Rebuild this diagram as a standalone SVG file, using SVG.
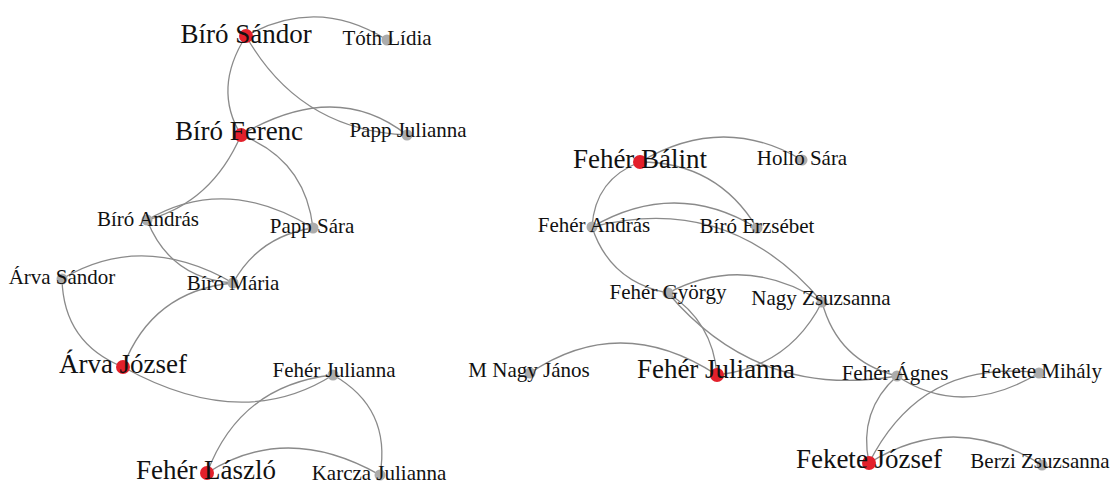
<svg xmlns="http://www.w3.org/2000/svg" width="1113" height="483" viewBox="0 0 1113 483">
<style>
.e{fill:none;stroke:#8a8a8a;stroke-width:1.3}
.r{fill:#e3202b}
.g{fill:#acacac}
text{font-family:"Liberation Serif","Times New Roman",serif;fill:#111111;text-anchor:middle}
.L{font-size:27px}
.S{font-size:21px}
</style>
<rect width="1113" height="483" fill="#ffffff"/>
<g id="edges">
<path class="e" d="M246 36 Q317.5 -4 387 40"/>
<path class="e" d="M246 36 Q212.5 88.5 241 135"/>
<path class="e" d="M246 36 Q299.5 130.5 407 135"/>
<path class="e" d="M241 135 Q336 79 407 135"/>
<path class="e" d="M241 135 Q212 202.5 147 220"/>
<path class="e" d="M241 135 Q305 159.5 313 228"/>
<path class="e" d="M147 220 Q226 174 313 228"/>
<path class="e" d="M147 220 Q170 278.5 233 283"/>
<path class="e" d="M313 228 Q259 236 233 283"/>
<path class="e" d="M62 279 Q142.5 231 233 283"/>
<path class="e" d="M62 279 Q63.5 343 123 367"/>
<path class="e" d="M233 283 Q152 291 123 367"/>
<path class="e" d="M123 367 Q242 433 333 375"/>
<path class="e" d="M333 375 Q240 385 207 473"/>
<path class="e" d="M333 375 Q391.5 408 380 475"/>
<path class="e" d="M207 473 Q286.5 422 380 475"/>
<path class="e" d="M640 162 Q723 113 802 160"/>
<path class="e" d="M640 162 Q595 179 592 227"/>
<path class="e" d="M640 162 Q717 162 757 228"/>
<path class="e" d="M592 227 Q675.5 178.5 757 228"/>
<path class="e" d="M592 227 Q729 191.5 822 302"/>
<path class="e" d="M592 227 Q610 282 668 293"/>
<path class="e" d="M668 293 Q745 252.5 822 302"/>
<path class="e" d="M668 293 Q713 322 717 375"/>
<path class="e" d="M668 293 Q758.7 400 897 376"/>
<path class="e" d="M822 302 Q789 367 717 375"/>
<path class="e" d="M822 302 Q837.7 361 897 376"/>
<path class="e" d="M530 373 Q620.5 312 717 375"/>
<path class="e" d="M897 376 Q962 419.5 1039 373"/>
<path class="e" d="M897 376 Q858 411 869 463"/>
<path class="e" d="M869 463 Q922 358 1039 373"/>
<path class="e" d="M869 463 Q954.5 410 1042 465"/>
</g>
<g id="n-biro-sandor"><circle class="r" cx="246" cy="36" r="7"/><text class="L" x="246" y="43">Bíró Sándor</text></g>
<g id="n-toth-lidia"><circle class="g" cx="387" cy="40" r="5.5"/><text class="S" x="387" y="45">Tóth Lídia</text></g>
<g id="n-biro-ferenc"><circle class="r" cx="241" cy="135" r="7"/><text class="L" x="239" y="140">Bíró Ferenc</text></g>
<g id="n-papp-julianna"><circle class="g" cx="407" cy="135" r="5.5"/><text class="S" x="408" y="137">Papp Julianna</text></g>
<g id="n-biro-andras"><circle class="g" cx="147" cy="220" r="5.5"/><text class="S" x="148" y="226">Bíró András</text></g>
<g id="n-papp-sara"><circle class="g" cx="313" cy="228" r="5.5"/><text class="S" x="312" y="233">Papp Sára</text></g>
<g id="n-arva-sandor"><circle class="g" cx="62" cy="279" r="5.5"/><text class="S" x="62" y="284">Árva Sándor</text></g>
<g id="n-biro-maria"><circle class="g" cx="233" cy="283" r="5.5"/><text class="S" x="233" y="290">Bíró Mária</text></g>
<g id="n-arva-jozsef"><circle class="r" cx="123" cy="367" r="7"/><text class="L" x="123" y="373">Árva József</text></g>
<g id="n-feher-julianna-l"><circle class="g" cx="333" cy="375" r="5.5"/><text class="S" x="334" y="377">Fehér Julianna</text></g>
<g id="n-feher-laszlo"><circle class="r" cx="207" cy="473" r="7"/><text class="L" x="206" y="479">Fehér László</text></g>
<g id="n-karcza-julianna"><circle class="g" cx="380" cy="475" r="5.5"/><text class="S" x="379" y="480">Karcza Julianna</text></g>
<g id="n-feher-balint"><circle class="r" cx="640" cy="162" r="7"/><text class="L" x="640" y="168">Fehér Bálint</text></g>
<g id="n-hollo-sara"><circle class="g" cx="802" cy="160" r="5.5"/><text class="S" x="802" y="165">Holló Sára</text></g>
<g id="n-feher-andras"><circle class="g" cx="592" cy="227" r="5.5"/><text class="S" x="594" y="232">Fehér András</text></g>
<g id="n-biro-erzsebet"><circle class="g" cx="757" cy="228" r="5.5"/><text class="S" x="757" y="233">Bíró Erzsébet</text></g>
<g id="n-feher-gyorgy"><circle class="g" cx="668" cy="293" r="5.5"/><text class="S" x="668" y="299">Fehér György</text></g>
<g id="n-nagy-zsuzsanna"><circle class="g" cx="822" cy="302" r="5.5"/><text class="S" x="821" y="305">Nagy Zsuzsanna</text></g>
<g id="n-m-nagy-janos"><circle class="g" cx="530" cy="373" r="5.5"/><text class="S" x="529" y="377">M Nagy János</text></g>
<g id="n-feher-julianna-r"><circle class="r" cx="717" cy="375" r="7"/><text class="L" x="716" y="378">Fehér Julianna</text></g>
<g id="n-feher-agnes"><circle class="g" cx="897" cy="376" r="5.5"/><text class="S" x="895" y="380">Fehér Ágnes</text></g>
<g id="n-fekete-mihaly"><circle class="g" cx="1039" cy="373" r="5.5"/><text class="S" x="1041" y="378">Fekete Mihály</text></g>
<g id="n-fekete-jozsef"><circle class="r" cx="869" cy="463" r="7"/><text class="L" x="869" y="468">Fekete József</text></g>
<g id="n-berzi-zsuzsanna"><circle class="g" cx="1042" cy="465" r="5.5"/><text class="S" x="1040" y="468">Berzi Zsuzsanna</text></g>
</svg>
